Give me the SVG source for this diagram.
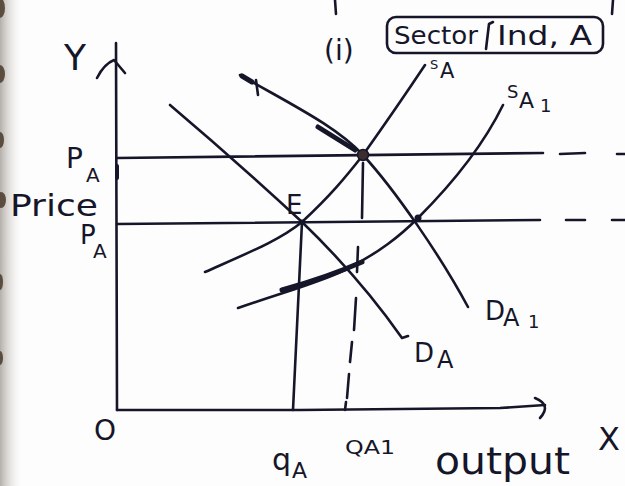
<svg xmlns="http://www.w3.org/2000/svg" width="625" height="486" viewBox="0 0 625 486">
<style>
.ink{fill:none;stroke:#16162a;stroke-width:2.6;stroke-linecap:round;stroke-linejoin:round}
.thick{fill:none;stroke:#16162a;stroke-width:5;stroke-linecap:round}
.dash{fill:none;stroke:#16162a;stroke-width:2.6;stroke-linecap:round}
.lbl{font-family:"DejaVu Sans","Liberation Sans",sans-serif;fill:#16162a}
</style>
<defs>
<linearGradient id="edge" x1="0" y1="0" x2="1" y2="0">
<stop offset="0" stop-color="#b3aea8"/>
<stop offset="1" stop-color="#ffffff" stop-opacity="0"/>
</linearGradient>
</defs>
<rect width="625" height="486" fill="#fdfdfd"/>
<rect x="0" y="0" width="24" height="486" fill="url(#edge)"/>
<g id="binder-holes" fill="#4a3b2c" opacity="0.85">
<ellipse cx="0" cy="8" rx="5" ry="10"/>
<ellipse cx="0" cy="74" rx="5" ry="9"/>
<ellipse cx="0" cy="140" rx="4" ry="8"/>
<ellipse cx="1" cy="200" rx="5" ry="8"/>
<ellipse cx="0" cy="282" rx="3" ry="8"/>
<ellipse cx="0" cy="358" rx="3" ry="7"/>
</g>
<g id="top-fragments" class="ink">
<path d="M335,0 L336,14"/>
<path d="M613,0 L612,14"/>
</g>
<g id="axes" class="ink">
<path d="M116,43 L117,410"/>
<path d="M97,78 Q104,64 114,60 L125,73"/>
<path d="M117,410 L300,410 L500,408 L545,405"/>
<path d="M535,398 Q552,405 540,418"/>
<path d="M117,166 L117,178" stroke-width="4"/>
</g>
<g id="connectors">
<path class="ink" d="M117,158 L543,153"/>
<path class="dash" d="M560,154 L585,153 M617,154 L625,154"/>
<path class="ink" d="M117,224 L540,220"/>
<path class="dash" d="M566,220 L585,220 M612,220 L625,220"/>
<path class="ink" d="M302,222 L293,410"/>
<path class="dash" d="M363,163 L362,218 M356,298 L354,330 M352,342 L350,362 M349,374 L347,398 M346,402 L345,410"/>
</g>
<g id="DA" >
<path class="ink" d="M170,105 Q235,160 302,222 Q360,278 402,338 L408,336"/>
</g>
<g id="DA1">
<path class="ink" d="M240,75 C292,105 336,126 363,155 C395,190 440,255 468,307"/>
<path class="thick" d="M242,76 L252,82 M318,127 L355,150"/>
<path class="ink" d="M256,80 L258,95"/>
</g>
<g id="SA">
<path class="ink" d="M205,272 C250,252 280,240 302,222 C330,196 345,178 363,155 C385,124 405,95 425,65"/>
</g>
<g id="SA1">
<path class="ink" d="M238,308 C290,290 318,283 345,270 C380,252 400,236 418,218 C452,184 482,148 503,105"/>
<path class="thick" d="M282,290 C310,282 335,274 362,262"/>
<path class="ink" d="M358,247 L357,272"/>
</g>
<g id="points" fill="#16162a">
<circle cx="363" cy="155" r="5.5" fill="#3b2d30" stroke="#16162a" stroke-width="1.5"/>
<circle cx="418" cy="218" r="3.5"/>
<circle cx="302" cy="222" r="2.5"/>
</g>
<g id="labels" class="lbl">
<text x="64" y="70" font-size="36">Y</text>
<text x="94" y="440" font-size="28">O</text>
<text x="598" y="450" font-size="32">X</text>
<text x="66" y="168" font-size="28">P</text>
<text x="86" y="182" font-size="20">A</text>
<text x="10" y="216" font-size="30" textLength="88" lengthAdjust="spacingAndGlyphs">Price</text>
<text x="80" y="244" font-size="26">P</text>
<text x="93" y="258" font-size="20">A</text>
<text x="286" y="214" font-size="26">E</text>
<text x="272" y="470" font-size="30">q</text>
<text x="292" y="478" font-size="22">A</text>
<text x="345" y="454" font-size="20" textLength="50" lengthAdjust="spacingAndGlyphs">QA1</text>
<text x="435" y="474" font-size="38" textLength="135" lengthAdjust="spacingAndGlyphs">output</text>
<text x="430" y="69" font-size="13">S</text>
<text x="440" y="78" font-size="21">A</text>
<text x="507" y="98" font-size="18">S</text>
<text x="519" y="108" font-size="22">A</text>
<text x="540" y="112" font-size="18">1</text>
<text x="485" y="320" font-size="26">D</text>
<text x="503" y="326" font-size="24">A</text>
<text x="528" y="328" font-size="18">1</text>
<text x="414" y="362" font-size="26">D</text>
<text x="437" y="368" font-size="24">A</text>
<text x="324" y="60" font-size="28">(i)</text>
</g>
<g id="title-box">
<rect x="387" y="17" width="216" height="36" rx="9" fill="none" stroke="#16162a" stroke-width="2.6"/>
<path class="ink" d="M486,49 L489,24 L493,22"/>
<text class="lbl" x="394" y="44" font-size="24" textLength="84" lengthAdjust="spacingAndGlyphs">Sector</text>
<text class="lbl" x="497" y="45" font-size="26" textLength="95" lengthAdjust="spacingAndGlyphs">Ind, A</text>
</g>
</svg>
